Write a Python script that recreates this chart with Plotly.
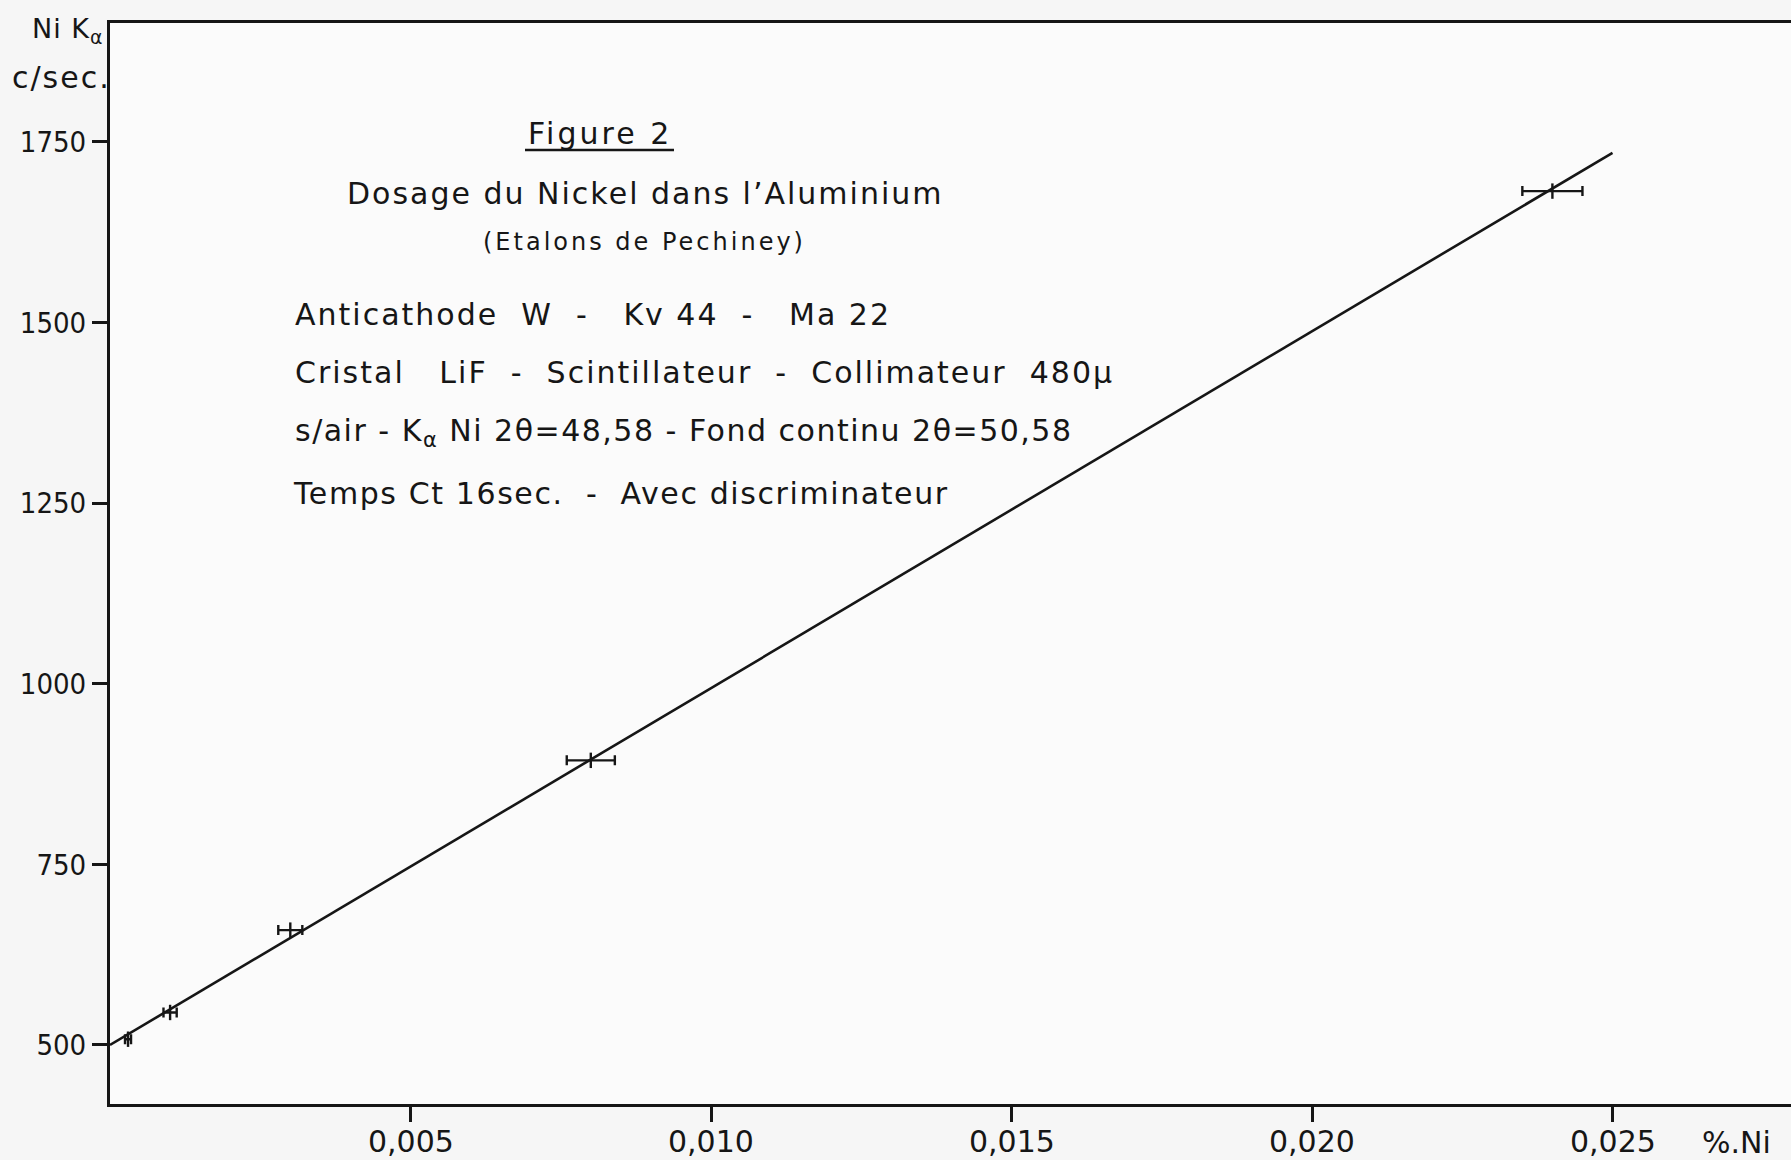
import plotly.graph_objects as go

# Calibration standards: Ni content (%) vs. Ni K-alpha count rate (c/sec)
ni_percent = [0.0003, 0.001, 0.003, 0.008, 0.024]
count_rate = [508, 545, 659, 894, 1682]
ni_error = [0.00005, 0.00011, 0.0002, 0.0004, 0.0005]

# Straight calibration line
fit_x = [0.0, 0.025]
fit_y = [500, 1735]

x_tick_vals = [0.005, 0.010, 0.015, 0.020, 0.025]
x_tick_text = ["0,005", "0,010", "0,015", "0,020", "0,025"]
y_tick_vals = [500, 750, 1000, 1250, 1500, 1750]
y_tick_text = ["500", "750", "1000", "1250", "1500", "1750"]

INK = "#161616"
FONT = "DejaVu Sans, Liberation Sans, Arial, sans-serif"
NARROW = "Liberation Sans Narrow, DejaVu Sans Condensed, Liberation Sans, Arial, sans-serif"

W, H = 1791, 1160
ML, MR, MT, MB = 110, 0, 23, 56
PW, PH = W - ML - MR, H - MT - MB


def px(xp):
    return (xp - ML) / PW


def py(yp):
    return (H - MB - yp) / PH


def spaced(text, gap):
    return f'<span style="letter-spacing:{gap}px">{text}</span>'


fig = go.Figure()

fig.add_trace(go.Scatter(
    x=fit_x, y=fit_y, mode="lines",
    line=dict(color=INK, width=2.6),
    hoverinfo="skip", showlegend=False,
))

fig.add_trace(go.Scatter(
    x=ni_percent, y=count_rate, mode="markers",
    marker=dict(symbol="line-ns", size=11, line=dict(color=INK, width=2.4)),
    error_x=dict(type="data", array=ni_error, symmetric=True,
                 color=INK, thickness=2.4, width=5),
    showlegend=False,
))

fig.update_xaxes(
    range=[0, PW / 300.5 * 0.005],
    automargin=False,
    showgrid=False, zeroline=False,
    showline=True, linecolor=INK, linewidth=3, mirror=True,
    ticks="outside", ticklen=15, tickwidth=2.5, tickcolor=INK,
    tickvals=x_tick_vals, showticklabels=False,
)
fig.update_yaxes(
    range=[418.3, 418.3 + PH / 180.6 * 250],
    automargin=False,
    showgrid=False, zeroline=False,
    showline=True, linecolor=INK, linewidth=3, mirror=False,
    ticks="outside", ticklen=15, tickwidth=2.5, tickcolor=INK,
    tickvals=y_tick_vals, ticktext=y_tick_text,
    tickfont=dict(family=NARROW, size=29, color=INK),
)

annotations = [
    dict(text=spaced("Ni K<sub>α</sub>", 1), x=px(105), y=py(30), xanchor="right", yanchor="middle",
         font=dict(family=FONT, size=27, color=INK)),
    dict(text=spaced("c/sec.", 2), x=px(113), y=py(77), xanchor="right", yanchor="middle",
         font=dict(family=FONT, size=30, color=INK)),
    dict(text="%.Ni", x=px(1736), y=py(1142), xanchor="center", yanchor="middle",
         font=dict(family=FONT, size=30, color=INK)),
    dict(text=spaced("Figure 2", 3), x=px(600), y=py(134), xanchor="center", yanchor="middle",
         font=dict(family=FONT, size=30, color=INK)),
    dict(text=spaced("Dosage du Nickel dans l’Aluminium", 2), x=px(645), y=py(194),
         xanchor="center", yanchor="middle",
         font=dict(family=FONT, size=30, color=INK)),
    dict(text=spaced("(Etalons de Pechiney)", 3), x=px(644), y=py(242),
         xanchor="center", yanchor="middle",
         font=dict(family=FONT, size=24, color=INK)),
    dict(text=spaced("Anticathode  W  -   Kv 44  -   Ma 22", 2), x=px(293), y=py(314),
         xanchor="left", yanchor="middle",
         font=dict(family=FONT, size=30, color=INK)),
    dict(text=spaced("Cristal   LiF  -  Scintillateur  -  Collimateur  480µ", 2), x=px(293), y=py(372),
         xanchor="left", yanchor="middle",
         font=dict(family=FONT, size=30, color=INK)),
    dict(text=spaced("s/air - K<sub>α</sub> Ni 2θ=48,58 - Fond continu 2θ=50,58", 1.5),
         x=px(293), y=py(432), xanchor="left", yanchor="middle",
         font=dict(family=FONT, size=30, color=INK)),
    dict(text=spaced("Temps Ct 16sec.  -  Avec discriminateur", 1.6), x=px(291), y=py(493),
         xanchor="left", yanchor="middle",
         font=dict(family=FONT, size=30, color=INK)),
]
for a in annotations:
    a.update(xref="paper", yref="paper", showarrow=False)

# x tick labels, placed on the x data scale just under the tick marks
for v, t in zip(x_tick_vals, x_tick_text):
    annotations.append(dict(
        text=t, x=v, xref="x", y=py(1141), yref="paper",
        xanchor="center", yanchor="middle", showarrow=False,
        font=dict(family=FONT, size=30, color=INK),
    ))

fig.update_layout(
    width=W, height=H,
    margin=dict(l=ML, r=MR, t=MT, b=MB, autoexpand=False),
    paper_bgcolor="#f6f6f6",
    plot_bgcolor="#fbfbfb",
    annotations=annotations,
    shapes=[dict(type="line", xref="paper", yref="paper",
                 x0=px(525), x1=px(674), y0=py(150), y1=py(150),
                 line=dict(color=INK, width=2.6))],
)

fig.write_html("out.html")
